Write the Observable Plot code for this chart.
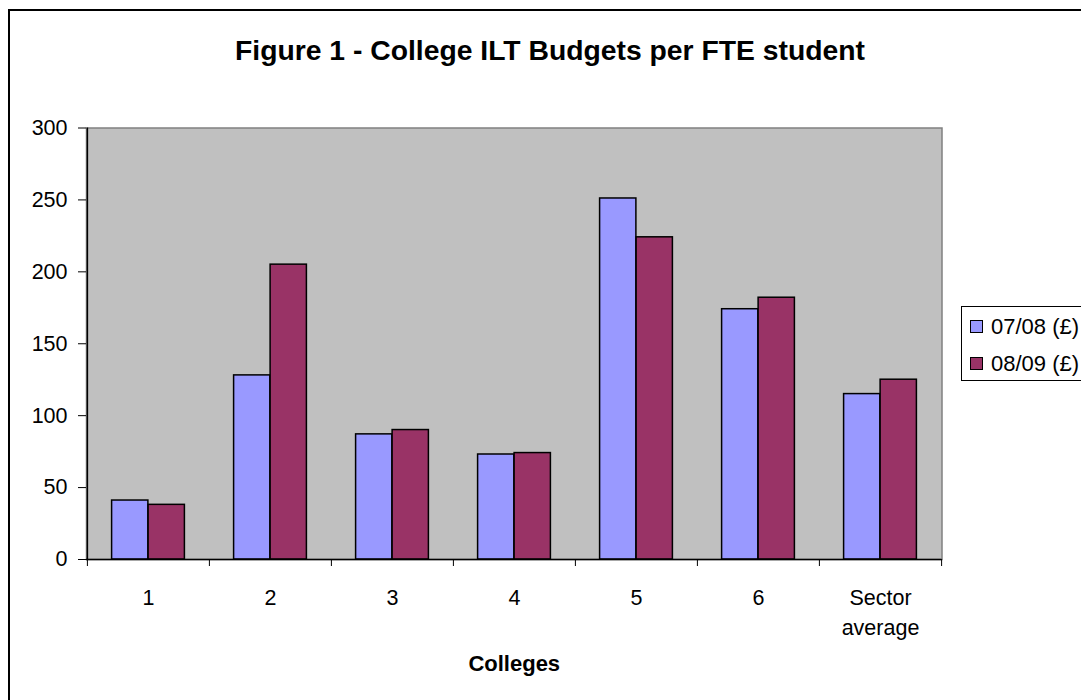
<!DOCTYPE html>
<html>
<head>
<meta charset="utf-8">
<script src="https://cdn.jsdelivr.net/npm/d3@7"></script>
<script src="https://cdn.jsdelivr.net/npm/@observablehq/plot@0.6"></script>
<style>
  html, body { margin: 0; padding: 0; background: #fff; }
  #wrap { position: relative; width: 1081px; height: 700px; overflow: hidden; font-family: "Liberation Sans", Arial, sans-serif; }
  #border { position: absolute; left: 8px; top: 9px; width: 1100px; height: 740px; border: 2px solid #000; box-sizing: border-box; }
  #title { position: absolute; left: 0; width: 1100px; top: 34px; text-align: center; font-weight: bold; font-size: 28.3px; color: #000; }
  #chart { position: absolute; left: 0; top: 0; }
  #legend { position: absolute; left: 961px; top: 306px; width: 140px; height: 75px; border: 1px solid #000; box-sizing: border-box; background: #fff; }
  .item { position: absolute; left: 8px; font-size: 22px; line-height: 22px; color: #000; white-space: nowrap; }
  .sw { display: inline-block; width: 11px; height: 11px; border: 1px solid #000; margin-right: 8px; vertical-align: 1px; }
</style>
</head>
<body>
<div id="wrap">
  <div id="border"></div>
  <div id="title">Figure 1 - College ILT Budgets per FTE student</div>
  <div id="chart"></div>
  <div id="legend"></div>
</div>
<script>
const colleges = ["1", "2", "3", "4", "5", "6", "Sector average"];
const seriesNames = ["07/08 (£)", "08/09 (£)"];
const budget0708 = [41, 128, 87, 73, 251, 174, 115];
const budget0809 = [38, 205, 90, 74, 224, 182, 125];
const yTicks = [0, 50, 100, 150, 200, 250, 300];
const seriesColors = ["#9999ff", "#993366"];

const W = 1081, H = 700;
const mL = 86, mR = 139.5, mT = 127.5, mB = 141;
const bw = (W - mL - mR) / colleges.length;
const outer = 24.6;

const rows0708 = colleges.map((c, i) => ({college: c, value: budget0708[i]}));
const rows0809 = colleges.map((c, i) => ({college: c, value: budget0809[i]}));

const chart = Plot.plot({
  width: W,
  height: H,
  marginLeft: mL,
  marginRight: mR,
  marginTop: mT,
  marginBottom: mB,
  style: {fontFamily: "'Liberation Sans', Arial, sans-serif", fontSize: "21.5px", background: "transparent", color: "#000"},
  x: {type: "band", domain: colleges, padding: 0, axis: null, label: null},
  y: {domain: [0, 300], axis: null, label: null},
  marks: [
    Plot.frame({fill: "#c0c0c0", stroke: "#808080", strokeWidth: 1.5}),
    Plot.barY(rows0708, {x: "college", y: "value", fill: seriesColors[0], stroke: "#000", strokeWidth: 1.5, insetLeft: outer, insetRight: bw / 2}),
    Plot.barY(rows0809, {x: "college", y: "value", fill: seriesColors[1], stroke: "#000", strokeWidth: 1.5, insetLeft: bw / 2, insetRight: outer}),
    Plot.ruleY([0], {stroke: "#000", strokeWidth: 1.5}),
    Plot.ruleX([colleges[0]], {dx: -bw / 2, stroke: "#000", strokeWidth: 1.5}),
    Plot.axisY({ticks: yTicks, tickSize: 8, tickPadding: 11, stroke: "#000", strokeWidth: 1, fontSize: 21.5, label: null}),
    Plot.axisX({tickSize: 7, dx: -bw / 2, tickFormat: () => "", stroke: "#000", strokeWidth: 1, label: null}),
    Plot.axisX({ticks: [colleges[colleges.length - 1]], tickSize: 7, dx: bw / 2, tickFormat: () => "", stroke: "#000", strokeWidth: 1, label: null}),
    Plot.axisX({tickSize: 0, tickPadding: 24, lineHeight: 1.4, fontSize: 21.5, tickFormat: d => d.replace(" ", "\n"), label: null}),
    Plot.text(["Colleges"], {frameAnchor: "bottom", dy: 104, text: d => d, fontWeight: "bold", fontSize: 22, lineAnchor: "middle"})
  ]
});
document.getElementById("chart").appendChild(chart);

const legend = document.getElementById("legend");
seriesNames.forEach((name, i) => {
  const it = document.createElement("div");
  it.className = "item";
  it.style.top = (i === 0 ? 9 : 46) + "px";
  const sw = document.createElement("span");
  sw.className = "sw";
  sw.style.background = seriesColors[i];
  it.appendChild(sw);
  it.appendChild(document.createTextNode(name));
  legend.appendChild(it);
});
</script>
</body>
</html>
